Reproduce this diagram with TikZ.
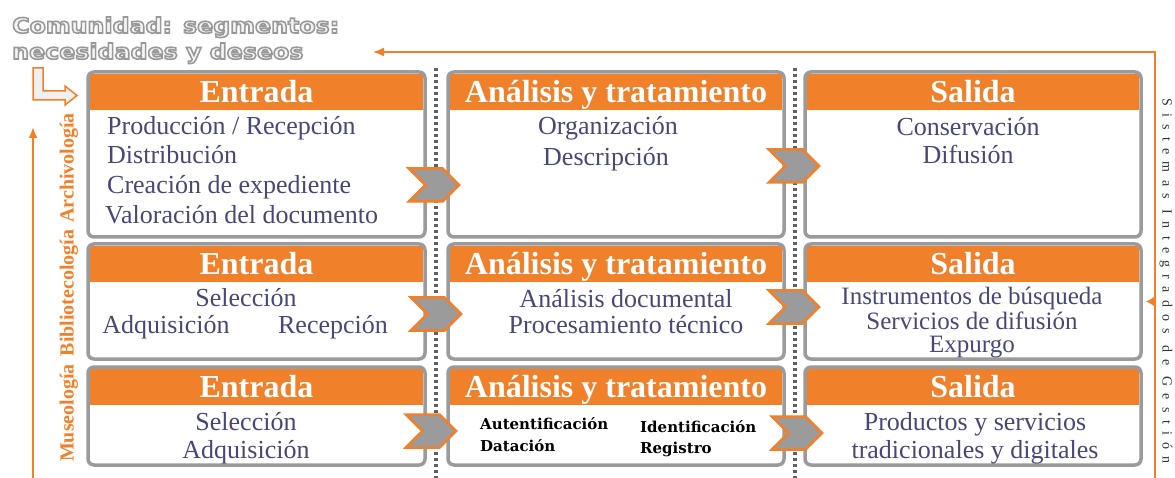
\documentclass[tikz,border=0pt]{standalone}
\usepackage{fontspec}
\setmainfont{Liberation Serif}
\newfontfamily\rotulo[FakeStretch=1.13]{DejaVu Sans}
\newfontfamily\negrita{DejaVu Serif}
\usetikzlibrary{arrows.meta,shapes.symbols}
\definecolor{naranja}{RGB}{240,128,42}
\definecolor{gris}{RGB}{155,155,155}
\definecolor{tinta}{RGB}{72,72,118}
\newcommand\hueco[1]{\special{pdf:literal direct q 2 Tr 1.6 w 0.6 0.6 0.6 RG 0.96 0.96 0.96 rg}#1\special{pdf:literal direct Q}}
\newcommand\etapa[6]{%
\node[caja,minimum width=#4,minimum height=#5,anchor=north west](#1)at(#2,#3){};
\node[cabeza,minimum width=#4-4,anchor=north](#1-t)at([yshift=-2pt]#1.north){#6};
\draw[borde](#1.north west)rectangle(#1.south east);}

\begin{document}
\begin{tikzpicture}[x=1pt,y=-1pt]
% Styles: stage boxes, their headers and texts
\tikzstyle{caja}=[rectangle,fill=white,inner sep=0pt,outer sep=0pt]
\tikzstyle{cabeza}=[rectangle,fill=naranja,inner sep=0pt,minimum height=36pt,text=white,font=\bfseries\fontsize{32}{36}\selectfont,text height=22pt,text depth=1pt]
\tikzstyle{borde}=[draw=gris,line width=3.5pt,rounded corners=6pt]
\tikzstyle{texto}=[text=tinta,inner sep=0pt,anchor=base,font=\fontsize{26}{30}\selectfont]
\tikzstyle{clave}=[inner sep=0pt,anchor=base west,font=\negrita\bfseries\fontsize{15}{17}\selectfont]
\tikzstyle{flecha}=[signal,signal from=west,signal to=east,signal pointer angle=90,fill=gris,draw=naranja,line width=2.5pt,minimum width=50pt,minimum height=33pt,inner sep=0pt]
\tikzstyle{rama}=[rotate=90,text=naranja,inner sep=0pt,font=\bfseries\fontsize{20}{24}\selectfont]
\tikzstyle{titulo}=[anchor=base west,inner sep=0pt,font=\rotulo\bfseries\fontsize{21}{26}\selectfont]
\tikzstyle{linea}=[draw=naranja,line width=1.5pt]
\useasboundingbox(0,0)rectangle(1175,478);
% dotted separators
\foreach \x in {436,795}
\draw[black!62,line width=3.5pt,dash pattern=on 3pt off 3pt](\x,68)--(\x,478);
% the stages
\etapa{a1}{88}{72}{337}{165}{Entrada}
\etapa{a2}{448}{72}{336}{165}{Análisis y tratamiento}
\etapa{a3}{805}{72}{336}{165}{Salida}
\etapa{b1}{88}{244}{337}{115}{Entrada}
\etapa{b2}{448}{244}{336}{115}{Análisis y tratamiento}
\etapa{b3}{805}{244}{336}{115}{Salida}
\etapa{c1}{88}{367}{337}{98}{Entrada}
\etapa{c2}{448}{367}{336}{98}{Análisis y tratamiento}
\etapa{c3}{805}{367}{336}{98}{Salida}
% archivologia
\node[texto,anchor=base west](a1-1)at(107,135){Producción / Recepción};
\node[texto,anchor=base west](a1-2)at(107,164){Distribución};
\node[texto,anchor=base west](a1-3)at(107,194){Creación de expediente};
\node[texto,anchor=base west](a1-4)at(105,224){Valoración del documento};
\node[texto](a2-1)at(608,135){Organización};
\node[texto](a2-2)at(606,166){Descripción};
\node[texto](a3-1)at(968,136){Conservación};
\node[texto](a3-2)at(968,164){Difusión};
% bibliotecologia
\node[texto](b1-1)at(246,306){Selección};
\node[texto](b1-2)at(166,333){Adquisición};
\node[texto](b1-3)at(333,333){Recepción};
\node[texto](b2-1)at(626,307){Análisis documental};
\node[texto](b2-2)at(626,334){Procesamiento técnico};
\node[texto,font=\fontsize{25}{28}\selectfont](b3-1)at(972,305){Instrumentos de búsqueda};
\node[texto,font=\fontsize{25}{28}\selectfont](b3-2)at(972,329){Servicios de difusión};
\node[texto,font=\fontsize{25}{28}\selectfont](b3-3)at(972,352){Expurgo};
% museologia
\node[texto](c1-1)at(246,430){Selección};
\node[texto](c1-2)at(246,458){Adquisición};
\node[clave](c2-1)at(480,429){Autentificación};
\node[clave](c2-2)at(480,451){Datación};
\node[clave](c2-3)at(640,432){Identificación};
\node[clave](c2-4)at(640,453){Registro};
\node[texto](c3-1)at(975,430){Productos y servicios};
\node[texto](c3-2)at(975,458){tradicionales y digitales};
% chevrons between the stages
\node[flecha](f1)at(434,185){};
\node[flecha](f2)at(794,166){};
\node[flecha](f3)at(436,314){};
\node[flecha](f4)at(794,307){};
\node[flecha](f5)at(431,431){};
\node[flecha](f6)at(797,433){};
% side labels
\node[rama](ra)at(69,168){Archivología};
\node[rama](rb)at(69,293){Bibliotecología};
\node[rama](rc)at(69,413){Museología};
\node[rotate=-90,text=black!80,inner sep=0pt,font=\fontsize{14}{16}\selectfont\addfontfeature{LetterSpace=52}](sig)at(1166,281){Sistemas Integrados de Gestión};
% title
\node[titulo](t1)at(12,33){\hueco{Comunidad: segmentos:}};
\node[titulo](t2)at(12,59){\hueco{necesidades y deseos}};
\draw[linea,fill=gris!15](33,68)--(43,68)--(43,91)--(65,91)--(65,86)--(77,95.5)--(65,105)--(65,100)--(33,100)--cycle;
% feedback arrows
\coordinate(m0)at(33,478);
\coordinate(m1)at(33,127);
\draw[linea,line width=1.8pt,-{Latex[length=11pt,width=9pt]}](m0)--(m1);
\coordinate(r0)at(1155,478);
\coordinate(r1)at(1155,52);
\coordinate(r2)at(373,52);
\draw[linea,-{Latex[length=11pt,width=9pt]}](r0)--(r1)--(r2);
\draw[linea,-{Latex[length=9pt,width=11pt]}](r1|-b3.east)--([xshift=5pt]b3.east);
\end{tikzpicture}
\end{document}
